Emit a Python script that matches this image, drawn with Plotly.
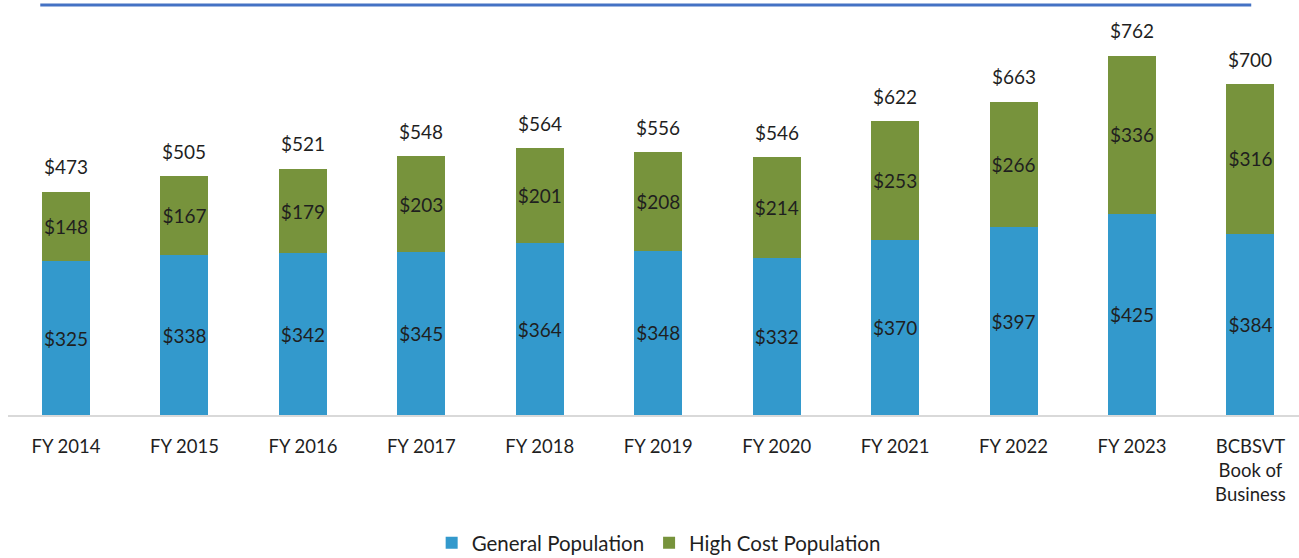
import plotly.graph_objects as go

categories = ['FY 2014', 'FY 2015', 'FY 2016', 'FY 2017', 'FY 2018', 'FY 2019',
              'FY 2020', 'FY 2021', 'FY 2022', 'FY 2023', 'BCBSVT<br>Book of<br>Business']
general_pop = [325, 338, 342, 345, 364, 348, 332, 370, 397, 425, 384]
high_cost_pop = [148, 167, 179, 203, 201, 208, 214, 253, 266, 336, 316]
totals = [473, 505, 521, 548, 564, 556, 546, 622, 663, 762, 700]

COLORS = {
    'general': '#3399CC',
    'high': '#77933C',
    'text': '#1F1F1F',
    'axis': '#D9D9D9',
    'topline': '#4472C4',
}
FONT = 'Lato, Open Sans, sans-serif'

fig = go.Figure()
fig.add_trace(go.Bar(
    x=categories, y=general_pop, name='General Population',
    marker=dict(color=COLORS['general'], line=dict(width=0)),
    text=[f'${v}' for v in general_pop], textposition='inside', textangle=0,
    insidetextanchor='middle', constraintext='none',
    textfont=dict(size=19, color=COLORS['text'], family=FONT),
))
fig.add_trace(go.Bar(
    x=categories, y=high_cost_pop, name='High Cost Population',
    marker=dict(color=COLORS['high'], line=dict(width=0)),
    text=[f'${v}' for v in high_cost_pop], textposition='inside', textangle=0,
    insidetextanchor='middle', constraintext='none',
    textfont=dict(size=19, color=COLORS['text'], family=FONT),
))

# totals above each stack
for cat, tot in zip(categories, totals):
    fig.add_annotation(x=cat, y=tot, text=f'${tot}', showarrow=False,
                       yshift=25, font=dict(size=19, color=COLORS['text'], family=FONT))

# blue rule across the top
fig.add_shape(type='line', xref='paper', yref='paper', x0=0.025, x1=0.963,
              y0=0.988, y1=0.988, line=dict(color=COLORS['topline'], width=3))

fig.update_layout(
    barmode='stack',
    bargap=0.595,
    width=1299, height=558,
    margin=dict(l=8, r=0, t=0, b=143, autoexpand=False),
    plot_bgcolor='white', paper_bgcolor='white',
    font=dict(family=FONT, color=COLORS['text'], size=18),
    showlegend=True,
    legend=dict(orientation='h', x=0.504, xanchor='center', y=-0.308, yanchor='middle',
                font=dict(size=20.5, color=COLORS['text']), itemwidth=30,
                traceorder='normal'),
    xaxis=dict(showgrid=False, showline=True, linecolor=COLORS['axis'], linewidth=1.5,
               ticks='', ticklabelstandoff=14, range=[-0.49, 10.41],
               tickfont=dict(size=18.5, color=COLORS['text'])),
    yaxis=dict(visible=False, range=[0, 878.5]),
)

# drop the default page margin so the figure sits at the window corner
fig.write_html('out.html', config={'displayModeBar': False},
               post_script="document.body.style.margin='0';")
